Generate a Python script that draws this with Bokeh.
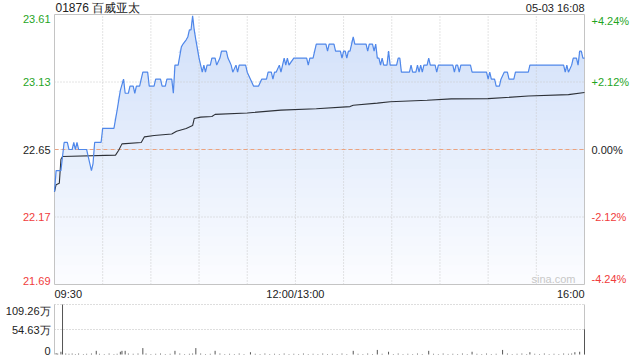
import numpy as np
from bokeh.plotting import figure
from bokeh.models import Range1d
from bokeh.core.properties import value
from bokeh.embed import file_html
from bokeh.resources import INLINE

# ---------------- data ----------------
title_text = "01876 百威亚太"
stamp_text = "05-03 16:08"
prev_close = 22.65
price_ticks = [23.61, 23.13, 22.65, 22.17, 21.69]
pct_labels = ["+4.24%", "+2.12%", "0.00%", "-2.12%", "-4.24%"]
time_ticks = [0, 150, 330]
time_labels = ["09:30", "12:00/13:00", "16:00"]
session_minutes = 330
grid_minutes = [30, 60, 90, 120, 150, 180, 210, 240, 270, 300]

# price vertices: minute index from 09:30 (lunch removed), price
price_t = [0, 1, 4, 5, 6, 8, 9, 11, 12, 13, 14, 15, 20, 21, 22, 23, 24, 25, 29, 30,
           37, 39, 41, 43, 44, 46, 47, 49, 50, 51, 53, 55, 58, 59, 62, 63, 66, 67, 69, 70,
           73, 74, 75, 77, 79, 80, 82, 83, 84, 85, 86, 87, 88, 90, 91, 92, 93, 94, 95, 97,
           98, 100, 101, 103, 104, 107, 108, 110, 111, 113, 114, 115, 119, 120, 122, 124, 127, 129, 132, 133,
           135, 136, 137, 138, 140, 141, 142, 143, 144, 145, 146, 149, 157, 158, 159, 161, 163, 169, 170, 171,
           174, 175, 178, 179, 180, 181, 182, 183, 184, 186, 187, 194, 195, 196, 198, 199, 200, 201, 202, 203,
           204, 205, 207, 208, 209, 213, 214, 215, 216, 221, 222, 223, 225, 226, 227, 228, 229, 230, 232, 233,
           234, 237, 238, 239, 248, 249, 250, 251, 252, 253, 259, 260, 269, 270, 271, 272, 274, 275, 277, 278,
           280, 282, 283, 286, 287, 295, 296, 317, 318, 319, 320, 322, 323, 325, 326, 327, 328, 329, 330]
price_v = [22.35, 22.50, 22.50, 22.60, 22.70, 22.70, 22.65, 22.65, 22.70, 22.65, 22.70, 22.65, 22.65, 22.60, 22.55, 22.50, 22.55, 22.70, 22.70, 22.80,
           22.80, 22.93, 23.07, 23.15, 23.05, 23.05, 23.10, 23.10, 23.05, 23.10, 23.10, 23.20, 23.20, 23.10, 23.10, 23.15, 23.15, 23.10, 23.10, 23.15,
           23.15, 23.05, 23.25, 23.25, 23.38, 23.40, 23.43, 23.45, 23.50, 23.50, 23.60, 23.50, 23.43, 23.30, 23.25, 23.20, 23.25, 23.20, 23.25, 23.25,
           23.30, 23.30, 23.25, 23.30, 23.35, 23.35, 23.30, 23.25, 23.20, 23.25, 23.20, 23.25, 23.25, 23.20, 23.15, 23.10, 23.10, 23.15, 23.15, 23.20,
           23.20, 23.15, 23.20, 23.20, 23.25, 23.20, 23.25, 23.30, 23.25, 23.30, 23.25, 23.30, 23.30, 23.25, 23.30, 23.30, 23.40, 23.40, 23.35, 23.40,
           23.40, 23.35, 23.35, 23.30, 23.35, 23.35, 23.30, 23.35, 23.35, 23.45, 23.40, 23.40, 23.35, 23.40, 23.40, 23.35, 23.40, 23.30, 23.30, 23.25,
           23.30, 23.25, 23.25, 23.35, 23.25, 23.25, 23.30, 23.30, 23.20, 23.20, 23.25, 23.20, 23.20, 23.25, 23.20, 23.25, 23.20, 23.25, 23.25, 23.30,
           23.25, 23.25, 23.20, 23.25, 23.25, 23.20, 23.25, 23.25, 23.20, 23.25, 23.25, 23.20, 23.20, 23.15, 23.20, 23.15, 23.15, 23.10, 23.10, 23.15,
           23.20, 23.20, 23.15, 23.15, 23.20, 23.20, 23.25, 23.25, 23.20, 23.25, 23.20, 23.25, 23.30, 23.30, 23.25, 23.35, 23.35, 23.30, 23.30]

# average price vertices
avg_t = [0, 1, 3, 4, 5, 38, 40, 42, 54, 56, 62, 73, 76, 82, 86, 87, 91, 98, 100, 120,
         141, 163, 184, 186, 201, 209, 232, 247, 270, 295, 320, 330]
avg_v = [22.35, 22.40, 22.41, 22.58, 22.60, 22.61, 22.645, 22.69, 22.70, 22.74, 22.75, 22.76, 22.78, 22.80, 22.82, 22.87, 22.88, 22.885, 22.90, 22.91,
         22.93, 22.94, 22.955, 22.965, 22.98, 22.99, 23.00, 23.01, 23.012, 23.03, 23.04, 23.055]

# volume (万股) per minute
vol_t = [1, 2, 4, 5, 7, 9, 11, 13, 15, 18, 20, 23, 26, 28, 31, 34, 37, 39, 41, 42,
         44, 46, 49, 52, 55, 57, 60, 63, 66, 69, 72, 75, 78, 81, 84, 86, 88, 91, 94, 97,
         100, 103, 106, 109, 112, 115, 118, 122, 125, 128, 131, 134, 137, 140, 143, 146, 149, 152, 155, 158,
         161, 164, 167, 170, 173, 176, 179, 182, 186, 189, 192, 195, 198, 201, 204, 208, 211, 214, 217, 220,
         223, 226, 229, 233, 236, 239, 242, 245, 248, 251, 254, 257, 260, 263, 266, 269, 272, 275, 279, 282,
         285, 288, 291, 294, 296, 299, 302, 305, 308, 311, 314, 317, 320, 322, 324, 327, 330]
vol_v = [3, 2, 6, 109.26, 2, 1.5, 2, 1, 2, 1, 1.5, 2, 8, 1.5, 1, 2, 1, 1.5, 6, 8,
         8, 2, 1.5, 2, 14, 2, 1, 1.5, 2, 1, 1.5, 8, 2, 1, 1.5, 2, 14, 2, 1, 1.5,
         8, 2, 1, 1.5, 1, 2, 1, 5, 1.5, 1, 2, 1, 1.5, 1, 2, 1, 1.5, 1, 2, 1,
         1.5, 1, 2, 1, 1.5, 1, 2, 1, 8, 1.5, 1, 2, 1, 10, 1.5, 6, 1, 2, 1, 1.5,
         1, 2, 1, 8, 1.5, 1, 2, 1, 1.5, 1, 2, 1, 6, 1.5, 1, 2, 1, 1.5, 10, 2,
         1, 1.5, 2, 1, 5, 1.5, 1, 2, 1, 1.5, 1, 2, 1.5, 2, 5, 6, 55]
vol_ticks = [109.26, 54.63, 0]
vol_labels = ["109.26万", "54.63万", "0"]

# ---------------- layout (canvas pixels) ----------------
W, H = 640, 360
F_LEFT, F_RIGHT = 54, 584
M_TOP, M_BOT = 14, 284
V_TOP, V_BOT = 304, 354

FONT = "Liberation Sans"
GREEN = "#1fa51f"
RED = "#f03c3c"
BLACK = "#222222"
LINE_BLUE = "#5088ea"
GRID = "#c8c8c8"
BORDER = "#c4c4c4"

ymax, ymin = price_ticks[0], price_ticks[-1]
sx = (F_RIGHT - F_LEFT) / session_minutes
sy = (M_BOT - M_TOP) / (ymax - ymin)
sv = (V_BOT - V_TOP) / vol_ticks[0]

x_start = -F_LEFT / sx
x_end = session_minutes + (W - F_RIGHT) / sx
y_top = ymax + M_TOP / sy
y_bot = ymin - (H - M_BOT) / sy


def X(cx):
    return x_start + cx / sx


def Y(cy):
    return y_top - cy / sy


p = figure(width=W, height=H, output_backend="svg", toolbar_location=None,
           x_range=Range1d(x_start, x_end), y_range=Range1d(y_bot, y_top),
           x_axis_type=None, y_axis_type=None, min_border=0)
p.min_border_left = p.min_border_right = p.min_border_top = p.min_border_bottom = 0
p.outline_line_color = None
p.background_fill_color = "white"
p.border_fill_color = "white"
p.xgrid.visible = False
p.ygrid.visible = False
p.extra_y_ranges = {"vol": Range1d(-(H - V_BOT) / sv, V_BOT / sv - (H - V_BOT) / sv + (H - V_BOT) / sv)}
p.extra_y_ranges["vol"].start = -(H - V_BOT) / sv
p.extra_y_ranges["vol"].end = (V_BOT) / sv - (H - V_BOT) / sv + (H - V_BOT) / sv

# gradient fill under the price line (solid bands, bottom to top)
price_t_arr = np.array(price_t, dtype=float)
price_v_arr = np.array(price_v, dtype=float)
n_bands = 28
c_bot = np.array([252, 253, 255])
c_top = np.array([208, 223, 249])
levels = np.linspace(ymin, ymax, n_bands + 1)[:-1]
for k, lv in enumerate(levels):
    f = (k + 0.5) / n_bands
    c = np.round(c_bot + (c_top - c_bot) * f).astype(int)
    col = "#%02x%02x%02x" % tuple(c)
    p.varea(x=price_t_arr, y1=np.full_like(price_t_arr, lv), y2=np.maximum(price_v_arr, lv),
            fill_color=col, fill_alpha=1.0)

# dotted grid
p.segment(x0=grid_minutes, y0=[ymin] * len(grid_minutes), x1=grid_minutes, y1=[ymax] * len(grid_minutes),
          line_color=GRID, line_dash="1 2", line_width=1)
inner = price_ticks[1:-1]
p.segment(x0=[0] * len(inner), y0=inner, x1=[session_minutes] * len(inner), y1=inner,
          line_color=GRID, line_dash="1 2", line_width=1)

# previous close
p.segment(x0=[0], y0=[prev_close], x1=[session_minutes], y1=[prev_close],
          line_color="#eda27f", line_dash="4 3", line_width=1)

# frame outline
p.quad(left=[0], right=[session_minutes], bottom=[ymin], top=[ymax],
       fill_color=None, line_color=BORDER, line_width=1)

p.line(avg_t, avg_v, line_color="#2d3138", line_width=1.1)
p.line(price_t, price_v, line_color=LINE_BLUE, line_width=1.2)

# ---------------- volume ----------------
vg = vol_ticks[:2]
p.segment(x0=[0] * len(vg), y0=vg, x1=[session_minutes] * len(vg), y1=vg,
          line_color="#bdbdbd", line_dash="1 2", line_width=1, y_range_name="vol")
p.segment(x0=[0, session_minutes], y0=[0, 0], x1=[0, session_minutes], y1=[vol_ticks[0]] * 2,
          line_color=BORDER, line_width=1, y_range_name="vol")
p.segment(x0=vol_t, y0=[0] * len(vol_t), x1=vol_t, y1=vol_v,
          line_color="#555555", line_width=1, y_range_name="vol")

# ---------------- texts ----------------
def tcolor(v):
    if v > prev_close + 1e-9:
        return GREEN
    if v < prev_close - 1e-9:
        return RED
    return BLACK


n = len(price_ticks)
cols = [tcolor(v) for v in price_ticks]
for base, idx in (("top", [0]), ("middle", list(range(1, n - 1))), ("bottom", [n - 1])):
    p.text(x=[X(F_LEFT - 4)] * len(idx), y=[price_ticks[i] for i in idx],
           text=["%.2f" % price_ticks[i] for i in idx], text_color=[cols[i] for i in idx],
           text_align="right", text_baseline=base,
           text_font=value(FONT), text_font_size=value("11px"))
    p.text(x=[X(F_RIGHT + 7)] * len(idx), y=[price_ticks[i] for i in idx],
           text=[pct_labels[i] for i in idx], text_color=[cols[i] for i in idx],
           text_align="left", text_baseline=base,
           text_font=value(FONT), text_font_size=value("11px"))

for t, lab, al in zip(time_ticks, time_labels, ["left", "center", "right"]):
    p.text(x=[t], y=[Y(M_BOT + 3)], text=[lab], text_align=al, text_baseline="top",
           text_color=BLACK, text_font=value(FONT), text_font_size=value("11px"))

p.text(x=[X(F_LEFT + 1)], y=[Y(7.5)], text=[title_text], text_align="left", text_baseline="middle",
       text_color=BLACK, text_font=value(FONT), text_font_size=value("12px"))
p.text(x=[session_minutes], y=[Y(7.5)], text=[stamp_text], text_align="right", text_baseline="middle",
       text_color=BLACK, text_font=value(FONT), text_font_size=value("11px"))
p.text(x=[X(F_RIGHT - 9)], y=[ymin], text=["sina.com"], text_align="right", text_baseline="bottom",
       text_color="#c8c8c8", text_font=value(FONT), text_font_size=value("11px"))

for i, (tv, lab) in enumerate(zip(vol_ticks, vol_labels)):
    base = "top" if i == 0 else ("bottom" if i == len(vol_ticks) - 1 else "middle")
    p.text(x=[X(F_LEFT - 4)], y=[tv], text=[lab], text_align="right", text_baseline=base,
           text_color=BLACK, text_font=value(FONT), text_font_size=value("11px"), y_range_name="vol")

open("out.html", "w").write(file_html(p, INLINE))
